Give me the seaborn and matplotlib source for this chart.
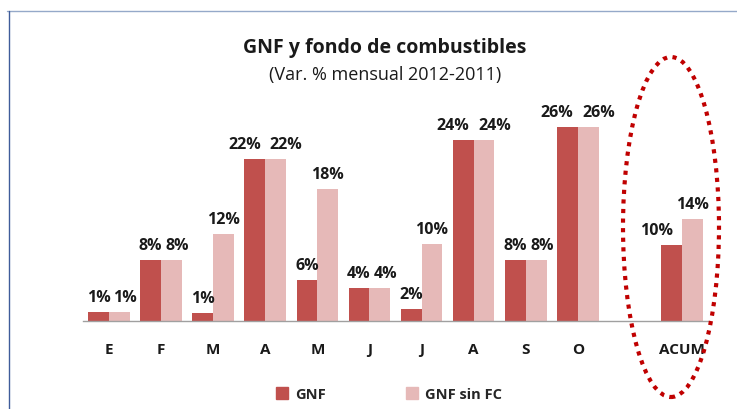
import pandas as pd
import matplotlib.pyplot as plt
import seaborn as sns
from matplotlib.patches import Ellipse
from matplotlib.lines import Line2D

# Data
meses = ["E", "F", "M", "A", "M", "J", "J", "A", "S", "O", "", "ACUM"]
claves = ["E", "F", "Mar", "Abr", "May", "Jun", "Jul", "Ago", "S", "O", "gap", "ACUM"]
gnf = [1.2, 8.2, 1.1, 21.9, 5.6, 4.4, 1.6, 24.4, 8.3, 26.2, None, 10.3]
gnf_sin_fc = [1.2, 8.2, 11.7, 21.9, 17.9, 4.4, 10.4, 24.4, 8.3, 26.2, None, 13.8]
series = ["GNF", "GNF sin FC"]
colores = ["#C0504D", "#E6B9B8"]

rows = []
for k, a, b in zip(claves, gnf, gnf_sin_fc):
    if a is not None:
        rows.append({"mes": k, "serie": "GNF", "valor": a})
        rows.append({"mes": k, "serie": "GNF sin FC", "valor": b})
df = pd.DataFrame(rows)

sns.set_theme(style="white")
plt.rcParams["font.family"] = ["Open Sans", "DejaVu Sans"]

W, H = 737, 410
fig = plt.figure(figsize=(W / 100, H / 100), dpi=100)
ax = fig.add_axes([83 / W, (H - 322) / H, 625 / W, (322 - 60) / H])

sns.barplot(
    data=df, x="mes", y="valor", hue="serie",
    order=claves, hue_order=series, palette=colores, saturation=1,
    width=0.8, errorbar=None, linewidth=0, ax=ax, legend=True
)

# data labels
for cont in ax.containers:
    ax.bar_label(cont, fmt=lambda v: f"{v:.0f}%", padding=5,
                 fontsize=11.5, fontweight="bold", color="#1a1a1a")

# spread labels apart where the two bars have the same value (as Excel does)
for i, (a, b) in enumerate(zip(gnf, gnf_sin_fc)):
    if a is None:
        continue
    if round(a) == round(b):
        d = 0.2 if round(a) >= 10 else 0.11
        for t in ax.texts:
            x, y = t.xy
            if abs(x - (i - 0.2)) < 0.01 and round(a) >= 10:
                t.xy = (x - d, y)
            elif abs(x - (i + 0.2)) < 0.01:
                t.xy = (x + d, y)

# ACUM GNF label sits a bit to the left in the original
for t in ax.texts:
    x, y = t.xy
    if abs(x - 10.8) < 0.01:
        t.xy = (x - 0.28, y)

ax.set_ylim(0, 35.4)
ax.set_xlim(-0.5, len(claves) - 0.5)
ax.set_yticks([])
ax.set_xticks(range(len(claves)))
ax.set_xticklabels(meses, fontsize=11, fontweight="bold", color="#1a1a1a")
ax.set_xticks([i - 0.5 for i in range(len(claves) + 1)], minor=True)
ax.tick_params(axis="x", which="major", length=0, pad=15)
ax.tick_params(axis="x", which="minor", length=4, width=1, color="#A0A0A0", direction="out")
ax.set_xlabel("")
ax.set_ylabel("")
for s in ["top", "right", "left"]:
    ax.spines[s].set_visible(False)
ax.spines["bottom"].set_color("#A0A0A0")
ax.spines["bottom"].set_linewidth(1)

# legend
ax.legend_.remove()
handles = [plt.Rectangle((0, 0), 1, 1, color=c) for c in colores]
fig.legend(handles, series, loc="center", bbox_to_anchor=(389 / W, 1 - 395 / H),
           ncol=2, frameon=False, handlelength=0.8, handleheight=0.8,
           columnspacing=5.5, handletextpad=0.5,
           prop={"size": 10.5, "weight": "bold"})

# titles
fig.text(385 / W, 1 - 48 / H, "GNF y fondo de combustibles", ha="center", va="center",
         fontsize=14, fontweight="bold", color="#1a1a1a")
fig.text(385 / W, 1 - 75 / H, "(Var. % mensual 2012-2011)", ha="center", va="center",
         fontsize=13, color="#1a1a1a")

# frame lines
fig.add_artist(Line2D([7 / W, 1], [1 - 12 / H, 1 - 12 / H], transform=fig.transFigure,
                      color="#95A9C9", lw=1))
fig.add_artist(Line2D([9 / W, 9 / W], [0, 1 - 12 / H], transform=fig.transFigure,
                      color="#3F5C9A", lw=1))

# dotted ellipse around ACUM
fig.add_artist(Ellipse((671 / W, 1 - 228 / H), 96 / W, 340 / H, transform=fig.transFigure,
                       fill=False, edgecolor="#C00000", lw=3, linestyle=(0, (1, 1.3))))

fig.savefig("out.png", dpi=100)
